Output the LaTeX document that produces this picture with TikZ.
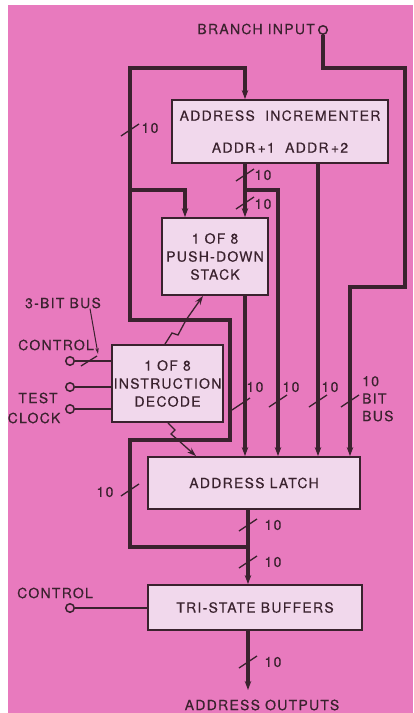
\documentclass[tikz,border=0pt]{standalone}
\usepackage{fontspec}
\setmainfont{TeX Gyre Heros}[LetterSpace=9, FakeBold=0.3]
\definecolor{myPinkBg}{RGB}{232,122,190}
\definecolor{myBoxFill}{RGB}{241,216,236}
\definecolor{myInk}{RGB}{58,34,46}
\usepackage{tikz}
\usetikzlibrary{arrows.meta, positioning, calc}

\begin{document}
\begin{tikzpicture}[x=1pt, y=-1pt, font=\fontsize{14}{18}\selectfont,
  blockbox/.style={draw=myInk, line width=1.8pt, fill=myBoxFill, align=center, inner sep=0pt, text=myInk},
  busline/.style={draw=myInk, line width=3.2pt},
  busarrow/.style={busline, -{Stealth[length=9pt, width=6.5pt]}},
  sigline/.style={draw=myInk, line width=2pt},
  zigarrow/.style={draw=myInk, line width=1.3pt, -{Stealth[length=9pt, width=6pt]}},
  slashmark/.style={draw=myInk, line width=1.3pt},
  pinlabel/.style={text=myInk, inner sep=0pt},
  pincircle/.style={circle, draw=myInk, line width=1.5pt, fill=myPinkBg, minimum size=8.5pt, inner sep=0pt}]

  \useasboundingbox (0,0) rectangle (413,713);
  \fill[white] (0,0) rectangle (413,713);
  \fill[myPinkBg] (8,5) rectangle (413,713);

  % blocks
  \node[blockbox, minimum width=216pt, minimum height=63pt] (incr) at (280,131.5)
    {ADDRESS\ \ INCREMENTER\\[14pt]ADDR\,+1\ \ ADDR\,+2};
  \node[blockbox, minimum width=106pt, minimum height=77pt] (stack) at (215,256.5)
    {1 OF 8\\PUSH-DOWN\\STACK};
  \node[blockbox, minimum width=111pt, minimum height=77pt] (decode) at (167.5,383.5)
    {1 OF 8\\INSTRUCTION\\DECODE};
  \node[blockbox, minimum width=212pt, minimum height=52pt] (latch) at (254,483)
    {ADDRESS LATCH};
  \node[blockbox, minimum width=214pt, minimum height=45pt] (tristate) at (255,607.5)
    {TRI-STATE BUFFERS};

  % pins and their labels
  \node[pincircle] (brIn) at (323,30) {};
  \node[pinlabel, anchor=east] (brLabel) at (315,29) {BRANCH INPUT};
  \node[pincircle] (ctlIn) at (70,361) {};
  \node[pincircle] (testIn) at (70,387) {};
  \node[pincircle] (clkIn) at (70,409) {};
  \node[pincircle] (ctlTwoIn) at (70,608) {};
  \node[pinlabel] (ctlLabel) at (56,345) {CONTROL};
  \node[pinlabel] (busLabel) at (63,303) {3-BIT BUS};
  \node[pinlabel] (testLabel) at (38,398) {TEST};
  \node[pinlabel] (clkLabel) at (34,418) {CLOCK};
  \node[pinlabel] (ctlTwoLabel) at (55,593) {CONTROL};
  \node[pinlabel] (outLabel) at (262,705) {ADDRESS OUTPUTS};

  \coordinate (outEnd) at (248,690);
  \coordinate (fbJoin) at (248,547);
  \coordinate (brDrop) at (350,287);
  \coordinate (stkTap) at (130,190);
  \coordinate (incTap) at (245,190);

  % buses
  \draw[busarrow] (brIn.south) |- (405,68) |- (brDrop) -- (brDrop |- latch.north);
  \draw[busarrow] (fbJoin) -| (130,440) -| (230,320) -| (130,68) -| (245,0 |- incr.north);
  \draw[busarrow] (stkTap) -| (185,0 |- stack.north);
  \draw[busarrow] (245,0 |- incr.south) -- (245,0 |- stack.north);
  \draw[busarrow] (incTap) -| (278,0 |- latch.north);
  \draw[busarrow] (245,0 |- stack.south) -- (245,0 |- latch.north);
  \draw[busarrow] (318,0 |- incr.south) -- (318,0 |- latch.north);
  \draw[busarrow] (248,0 |- latch.south) -- (248,0 |- tristate.north);
  \draw[busarrow] (248,0 |- tristate.south) -- (outEnd);

  % control lines
  \draw[sigline] (ctlIn.east) -- (decode.west |- ctlIn);
  \draw[sigline] (testIn.east) -- (decode.west |- testIn);
  \draw[sigline] (clkIn.east) -- (decode.west |- clkIn);
  \draw[sigline] (ctlTwoIn.east) -- (tristate.west |- ctlTwoIn);
  \draw[zigarrow] (165,0 |- decode.north) -- (172,333) -- (178,335) -- (186,320) -- (203,0 |- stack.south);
  \draw[zigarrow] (168,0 |- decode.south) -- (175,430) -- (171,434) -- (178,440) -- (196,0 |- latch.north);

  % bus width marks
  \draw[slashmark] (81,366) -- (97,356);
  \draw[myInk, line width=1pt, -{Stealth[length=6pt, width=3.5pt]}] (busLabel.south -| 90,0) -- (98,354);
  \draw[slashmark] (121,136) -- (139,124);
  \node[pinlabel] (wTopL) at (150,128) {10};
  \draw[slashmark] (236,181) -- (254,169);
  \node[pinlabel] (wIncA) at (263,175) {10};
  \draw[slashmark] (236,209) -- (254,197);
  \node[pinlabel] (wIncB) at (263,204) {10};
  \draw[slashmark] (232,410) -- (250,398);
  \node[pinlabel] (wStk) at (255,387) {10};
  \draw[slashmark] (269,407) -- (287,395);
  \node[pinlabel] (wAddrA) at (291,387) {10};
  \draw[slashmark] (309,407) -- (327,395);
  \node[pinlabel] (wAddrB) at (330,387) {10};
  \draw[slashmark] (341,407) -- (359,395);
  \node[pinlabel, align=left, anchor=north west, font=\fontsize{14}{17.5}\selectfont] (wBranch) at (362,376) {10\\BIT\\BUS};
  \draw[slashmark] (121,496) -- (139,484);
  \node[pinlabel] (wBotL) at (105,492) {10};
  \draw[slashmark] (239,531) -- (257,519);
  \node[pinlabel] (wLatA) at (273,525) {10};
  \draw[slashmark] (239,568) -- (257,556);
  \node[pinlabel] (wLatB) at (273,562) {10};
  \draw[slashmark] (239,668) -- (257,656);
  \node[pinlabel] (wOut) at (273,662) {10};
\end{tikzpicture}
\end{document}
